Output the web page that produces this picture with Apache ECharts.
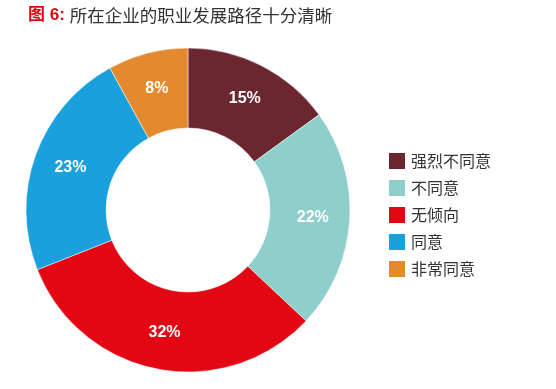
<!DOCTYPE html>
<html><head><meta charset="utf-8">
<script src="https://cdn.jsdelivr.net/npm/echarts@6/dist/echarts.min.js"></script>
<style>html,body{margin:0;padding:0;background:#fff}#c{width:556px;height:389px}</style>
</head><body><div id="c"></div>
<script>
const categories = ['强烈不同意','不同意','无倾向','同意','非常同意'];
const values = [15,22,32,23,8];
const colors = ['#6B2630','#8ECFCB','#E30613','#1AA0DD','#E38A2E'];
const chart = echarts.init(document.getElementById('c'));
chart.setOption({
  animation:false,
  title:{
    text:'{a|图 6:} {b|所在企业的职业发展路径十分清晰}',
    left:23, top:1,
    textStyle:{fontWeight:'normal',rich:{
      a:{color:'#E30613',fontWeight:'bold',fontSize:17,fontFamily:'Liberation Sans, Noto Sans CJK SC'},
      b:{color:'#333',fontSize:17.5,fontWeight:'normal',fontFamily:'Noto Sans CJK SC'}
    }}
  },
  legend:{
    orient:'vertical', left:382, top:146, itemWidth:18, itemHeight:18, itemGap:7,
    icon:'rect',
    textStyle:{fontSize:16,lineHeight:18,color:'#333',fontFamily:'Noto Sans CJK SC'},
    data:categories
  },
  color:colors,
  series:[{
    type:'pie', center:[188,210], radius:[82,162], startAngle:90, clockwise:true,
    label:{position:'inside', formatter:'{c}%', color:'#fff', fontSize:16, fontWeight:'bold', fontFamily:'Liberation Sans, Arial'},
    labelLine:{show:false},
    itemStyle:{borderColor:'#fff',borderWidth:0.5},
    data:categories.map((n,i)=>({name:n,value:values[i]}))
  }]
});
</script></body></html>
